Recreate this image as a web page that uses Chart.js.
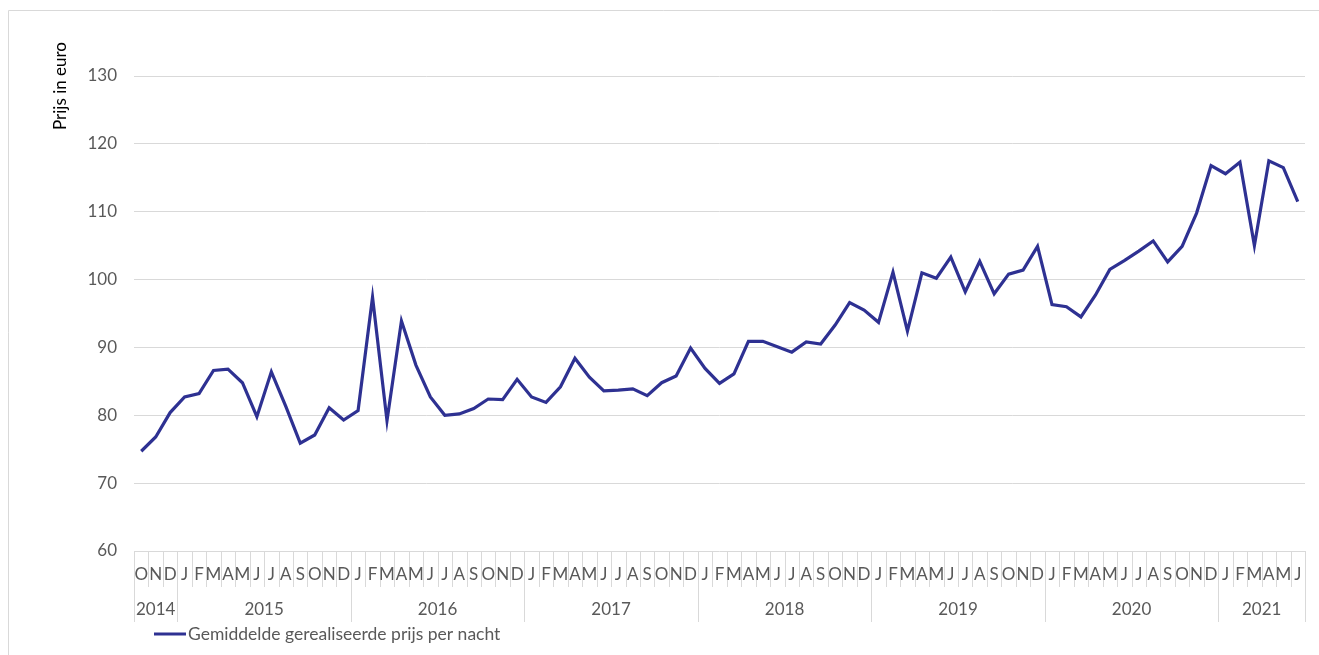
<!DOCTYPE html>
<html lang="nl">
<head>
<meta charset="utf-8">
<title>Gemiddelde gerealiseerde prijs per nacht</title>
<script src="https://cdn.jsdelivr.net/npm/chart.js@4.4.1/dist/chart.umd.min.js"></script>
<style>
  html, body { margin: 0; padding: 0; background: #ffffff; }
  #wrap { width: 1319px; height: 655px; }
</style>
</head>
<body>
<div id="wrap"><canvas id="prijsChart" width="1319" height="655"></canvas></div>
<script>
// Jaren en maandletters op de x-as
const jaren = ['2014', '2015', '2016', '2017', '2018', '2019', '2020', '2021'];
const maanden2014 = ['O', 'N', 'D'];
const maandenJaar = ['J', 'F', 'M', 'A', 'M', 'J', 'J', 'A', 'S', 'O', 'N', 'D'];
const maanden2021 = ['J', 'F', 'M', 'A', 'M', 'J'];

// Gemiddelde gerealiseerde prijs per nacht (euro)
const prijs2014 = [74.7, 76.8, 80.4];
const prijs2015 = [82.7, 83.2, 86.6, 86.8, 84.8, 79.8, 86.4, 81.3, 75.9, 77.1, 81.1, 79.3];
const prijs2016 = [80.7, 97.4, 79.2, 93.9, 87.4, 82.7, 80.0, 80.2, 81.0, 82.4, 82.3, 85.3];
const prijs2017 = [82.7, 81.9, 84.2, 88.4, 85.6, 83.6, 83.7, 83.9, 82.9, 84.8, 85.8, 89.9];
const prijs2018 = [86.9, 84.7, 86.1, 90.9, 90.9, 90.1, 89.3, 90.8, 90.5, 93.3, 96.6, 95.5];
const prijs2019 = [93.7, 101.1, 92.4, 101.0, 100.2, 103.3, 98.2, 102.7, 97.9, 100.8, 101.4, 104.9];
const prijs2020 = [96.3, 96.0, 94.5, 97.7, 101.5, 102.8, 104.2, 105.7, 102.6, 104.9, 109.8, 116.8];
const prijs2021 = [115.6, 117.3, 105.0, 117.5, 116.5, 111.5];

// Y-as
const yMin = 60;
const yMax = 130;
const yStap = 10;

const maandenPerJaar = [
  maanden2014,
  maandenJaar, maandenJaar, maandenJaar, maandenJaar, maandenJaar, maandenJaar,
  maanden2021
];
const labels = maandenPerJaar.flat();
const prijzen = [].concat(prijs2014, prijs2015, prijs2016, prijs2017, prijs2018, prijs2019, prijs2020, prijs2021);

const lijnKleur = '#2e3192';
const rasterKleur = '#d9d9d9';
const tekstKleur = '#595959';
const fontFamilie = "'Lato', 'Liberation Sans', sans-serif";

// Tekent de tweeledige x-as (maanden + jaren), de as-titel, de legenda en de kader
const asPlugin = {
  id: 'asPlugin',
  afterDraw(chart) {
    const c = chart.ctx;
    const x = chart.scales.x;
    const area = chart.chartArea;
    const n = labels.length;
    const grens = i => {
      if (i === 0) return area.left;
      if (i === n) return area.right;
      return (x.getPixelForValue(i - 1) + x.getPixelForValue(i)) / 2;
    };
    const onder = area.bottom;
    const maandOnder = onder + 36;
    const jaarOnder = onder + 71;

    c.save();

    // kader rond de grafiek
    c.strokeStyle = rasterKleur;
    c.lineWidth = 1;
    c.beginPath();
    c.moveTo(8.5, chart.height);
    c.lineTo(8.5, 10.5);
    c.lineTo(chart.width, 10.5);
    c.stroke();

    // maandscheidingen en jaarscheidingen
    const jaarGrenzen = new Set([0]);
    let teller = 0;
    maandenPerJaar.forEach(m => { teller += m.length; jaarGrenzen.add(teller); });

    for (let i = 0; i <= n; i++) {
      const px = Math.round(grens(i)) + 0.5;
      c.beginPath();
      c.moveTo(px, onder);
      c.lineTo(px, jaarGrenzen.has(i) ? jaarOnder : maandOnder);
      c.stroke();
    }

    // maandletters
    c.fillStyle = tekstKleur;
    c.font = '17px ' + fontFamilie;
    c.textAlign = 'center';
    c.textBaseline = 'middle';
    labels.forEach((l, i) => {
      c.fillText(l, x.getPixelForValue(i), onder + 24);
    });

    // jaartallen
    let start = 0;
    maandenPerJaar.forEach((m, j) => {
      const eind = start + m.length;
      const midden = (grens(start) + grens(eind)) / 2;
      c.fillText(jaren[j], midden, onder + 59);
      start = eind;
    });

    // titel y-as
    c.fillStyle = '#000000';
    c.translate(61, 86);
    c.rotate(-Math.PI / 2);
    c.fillText('Prijs in euro', 0, 0);
    c.setTransform(1, 0, 0, 1, 0, 0);

    // legenda
    const ds = chart.data.datasets[0];
    c.strokeStyle = ds.borderColor;
    c.lineWidth = 3;
    c.beginPath();
    c.moveTo(154, 634);
    c.lineTo(186, 634);
    c.stroke();
    c.fillStyle = tekstKleur;
    c.textAlign = 'left';
    c.font = '17.5px ' + fontFamilie;
    c.fillText(ds.label, 188, 634);

    c.restore();
  }
};

new Chart(document.getElementById('prijsChart'), {
  type: 'line',
  data: {
    labels: labels,
    datasets: [{
      label: 'Gemiddelde gerealiseerde prijs per nacht',
      data: prijzen,
      borderColor: lijnKleur,
      backgroundColor: lijnKleur,
      borderWidth: 3.2,
      pointRadius: 0,
      tension: 0,
      fill: false
    }]
  },
  options: {
    responsive: false,
    devicePixelRatio: 1,
    animation: false,
    layout: {
      padding: { left: 0, top: 76, right: 14, bottom: 104 }
    },
    plugins: {
      legend: { display: false },
      tooltip: { enabled: false }
    },
    scales: {
      x: {
        type: 'category',
        offset: true,
        display: false
      },
      y: {
        min: yMin,
        max: yMax,
        afterFit(scale) { scale.width = 134; },
        border: { display: false },
        grid: {
          color: rasterKleur,
          lineWidth: 1,
          drawTicks: false
        },
        ticks: {
          stepSize: yStap,
          padding: 17,
          color: tekstKleur,
          font: { size: 17, family: fontFamilie }
        }
      }
    }
  },
  plugins: [asPlugin]
});
</script>
</body>
</html>
